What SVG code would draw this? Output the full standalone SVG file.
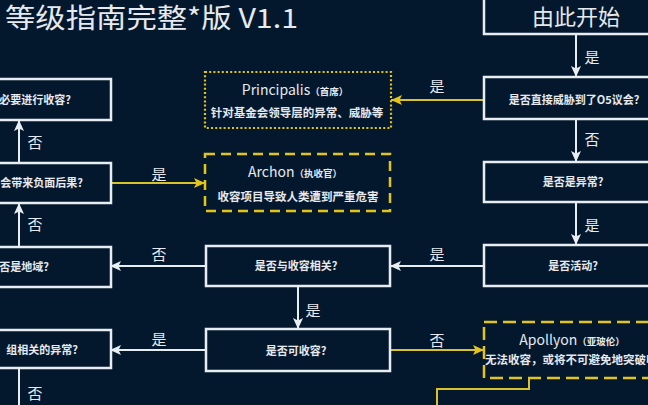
<svg xmlns="http://www.w3.org/2000/svg" width="648" height="405" viewBox="0 0 648 405">
<defs>
<style>
.bg{fill:#04182d}
.box{fill:#04182d;stroke:#e8edf2;stroke-width:2.5}
.ybox{fill:#04182d;stroke:#e3c41a;stroke-width:2.5}
.dot{stroke-dasharray:2 2.2;stroke-width:2.2}
.dash1{stroke-dasharray:10 6}
.dash2{stroke-dasharray:13 6}
.t{font-family:"Noto Sans CJK SC","Noto Sans",sans-serif;fill:#e6e9ee}
.bt{font-size:11px;font-weight:bold}
.lbl{font-size:15px;text-anchor:middle}
.name{font-size:14px}
.sub{font-size:9.5px;font-weight:bold}
.desc{font-size:11.5px;font-weight:bold}
.w{fill:none;stroke:#e8edf2;stroke-width:2}
.y{fill:none;stroke:#d9c22c;stroke-width:2}
</style>
<marker id="aw" markerUnits="userSpaceOnUse" markerWidth="12" markerHeight="10" refX="11" refY="5" orient="auto">
<path d="M0,0 L11,5 L0,10 L2.5,5 z" fill="#e8edf2"/>
</marker>
<marker id="ay" markerUnits="userSpaceOnUse" markerWidth="12" markerHeight="10" refX="11" refY="5" orient="auto">
<path d="M0,0 L11,5 L0,10 L2.5,5 z" fill="#e3c41a"/>
</marker>
</defs>
<rect class="bg" x="0" y="0" width="648" height="405"/>
<text class="t" x="5" y="28" font-size="27" textLength="293" lengthAdjust="spacingAndGlyphs">等级指南完整*版 V1.1</text>

<g id="connectors">
<path class="w" d="M576,34 L576,77" marker-end="url(#aw)"/>
<path class="y" d="M484,100 L391,100" marker-end="url(#ay)"/>
<path class="w" d="M576,119 L576,162" marker-end="url(#aw)"/>
<path class="w" d="M576,202 L576,245" marker-end="url(#aw)"/>
<path class="w" d="M484,266 L390,266" marker-end="url(#aw)"/>
<path class="w" d="M206,266 L110,266" marker-end="url(#aw)"/>
<path class="w" d="M298,286 L298,329" marker-end="url(#aw)"/>
<path class="y" d="M390,350 L484,350" marker-end="url(#ay)"/>
<path class="w" d="M206,350 L110,350" marker-end="url(#aw)"/>
<path class="w" d="M19,368 L19,412"/>
<path class="w" d="M19,247 L19,203" marker-end="url(#aw)"/>
<path class="w" d="M19,163 L19,120" marker-end="url(#aw)"/>
<path class="y" d="M110,183 L205,183" marker-end="url(#ay)"/>
<path class="y" d="M529,378 L529,389 L437,389 L437,412"/>
<text class="t lbl" x="592" y="63">是</text>
<text class="t lbl" x="437" y="92">是</text>
<text class="t lbl" x="592" y="145">否</text>
<text class="t lbl" x="592" y="231">是</text>
<text class="t lbl" x="437" y="260">是</text>
<text class="t lbl" x="159" y="260">否</text>
<text class="t lbl" x="313" y="316">是</text>
<text class="t lbl" x="437" y="346">否</text>
<text class="t lbl" x="159" y="345">是</text>
<text class="t lbl" x="35" y="399">否</text>
<text class="t lbl" x="35" y="230">否</text>
<text class="t lbl" x="35" y="148">否</text>
<text class="t lbl" x="159" y="180">是</text>
</g>

<g id="start">
<rect class="box" x="484" y="-10" width="184" height="44"/>
<text class="t" x="576" y="25" font-size="22" text-anchor="middle">由此开始</text>
</g>
<g id="q-o5">
<rect class="box" x="484" y="77" width="184" height="42"/>
<text class="t bt" x="574" y="104" font-size="12" text-anchor="middle">是否直接威胁到了O5议会?</text>
</g>
<g id="q-anomaly">
<rect class="box" x="484" y="162" width="184" height="40"/>
<text class="t bt" x="573" y="186" text-anchor="middle">是否是异常?</text>
</g>
<g id="q-active">
<rect class="box" x="484" y="245" width="184" height="41"/>
<text class="t bt" x="573" y="270" text-anchor="middle">是否活动?</text>
</g>
<g id="q-related">
<rect class="box" x="206" y="246" width="184" height="40"/>
<text class="t bt" x="296" y="270" text-anchor="middle">是否与收容相关?</text>
</g>
<g id="q-containable">
<rect class="box" x="206" y="329" width="184" height="42"/>
<text class="t bt" x="296" y="355" text-anchor="middle">是否可收容?</text>
</g>
<g id="principalis">
<rect class="ybox dot" x="205" y="72" width="186" height="56"/>
<text class="t" x="295" y="95" text-anchor="middle"><tspan class="name">Principalis</tspan><tspan class="sub">（首席）</tspan></text>
<text class="t desc" x="297" y="117" text-anchor="middle">针对基金会领导层的异常、威胁等</text>
</g>
<g id="archon">
<rect class="ybox dash1" x="205" y="154" width="185" height="57"/>
<text class="t" x="295" y="177" text-anchor="middle"><tspan class="name">Archon</tspan><tspan class="sub">（执收官）</tspan></text>
<text class="t desc" x="298" y="201" text-anchor="middle">收容项目导致人类遭到严重危害</text>
</g>
<g id="apollyon">
<rect class="ybox dash2" x="484" y="322" width="200" height="56"/>
<text class="t" x="572" y="345" text-anchor="middle"><tspan class="name">Apollyon</tspan><tspan class="sub">（亚玻伦）</tspan></text>
<text class="t desc" x="485" y="364" font-size="11">无法收容，或将不可避免地突破收</text>
</g>
<g id="q-necessary">
<rect class="box" x="-73" y="79" width="184" height="41"/>
<text class="t bt" x="71" y="104" text-anchor="end">必要进行收容?</text>
</g>
<g id="q-negative">
<rect class="box" x="-73" y="163" width="184" height="40"/>
<text class="t bt" x="83" y="187" text-anchor="end">会带来负面后果?</text>
</g>
<g id="q-location">
<rect class="box" x="-73" y="247" width="184" height="40"/>
<text class="t bt" x="49" y="271" text-anchor="end">否是地域?</text>
</g>
<g id="q-group">
<rect class="box" x="-73" y="330" width="184" height="38"/>
<text class="t bt" x="78" y="354" text-anchor="end">组相关的异常?</text>
</g>
</svg>
